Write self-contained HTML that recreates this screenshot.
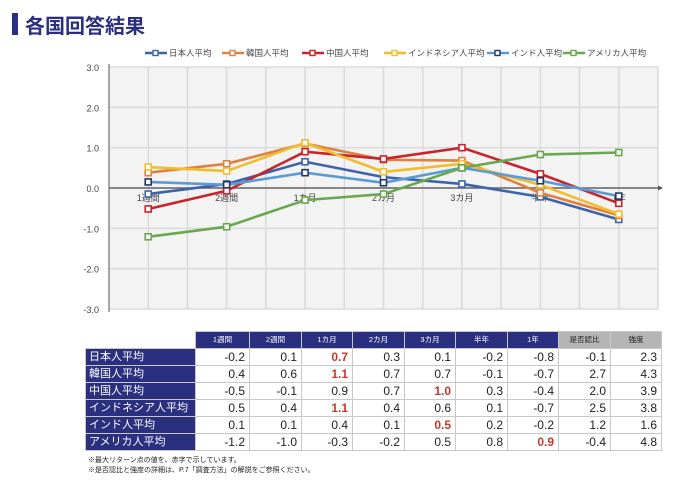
<!DOCTYPE html>
<html><head><meta charset="utf-8"><style>
body{margin:0;width:700px;height:481px;background:#fff;font-family:"Liberation Sans","Noto Sans CJK JP",sans-serif;position:relative;overflow:hidden}
.title{position:absolute;left:12px;top:12px;height:24px;display:flex;align-items:center}
.title .bar{width:6px;height:22px;background:#2b2f80;margin-right:7px}
.title span{font-size:20px;font-weight:bold;color:#2b2f80}
table{position:absolute;left:85px;top:331px;border-collapse:collapse;font-size:12px;table-layout:fixed;width:576px}
td,th{border:1px solid #c8c8c8;padding:0 4px;height:16.3px;line-height:16px;text-align:right;color:#222;white-space:nowrap;overflow:hidden;box-sizing:border-box}
th{background:#2b2f80;color:#fff;font-size:7.5px;font-weight:normal;text-align:center;height:17px}
th.g{background:#b5b5b5;color:#222}
th.e{background:#fff;border:none}
td.l{background:#2b2f80;color:#fff;text-align:left;font-size:11px;padding-left:3px}
td.r{color:#c0392b;font-weight:bold}
.note{position:absolute;left:88px;font-size:7px;color:#222;white-space:nowrap}
</style></head><body>
<div class="title"><div class="bar"></div><span>各国回答結果</span></div>
<svg id="chart" width="700" height="330" style="position:absolute;left:0;top:0"></svg>
<table>
<colgroup><col style="width:110px"><col style="width:54px"><col style="width:52px"><col style="width:51px"><col style="width:52px"><col style="width:51px"><col style="width:52px"><col style="width:51px"><col style="width:52px"><col style="width:51px"></colgroup>
<tr><th class="e"></th><th>1週間</th><th>2週間</th><th>1カ月</th><th>2カ月</th><th>3カ月</th><th>半年</th><th>1年</th><th class="g">是否認比</th><th class="g">強度</th></tr>
<tr><td class="l">日本人平均</td><td>-0.2</td><td>0.1</td><td class="r">0.7</td><td>0.3</td><td>0.1</td><td>-0.2</td><td>-0.8</td><td>-0.1</td><td>2.3</td></tr>
<tr><td class="l">韓国人平均</td><td>0.4</td><td>0.6</td><td class="r">1.1</td><td>0.7</td><td>0.7</td><td>-0.1</td><td>-0.7</td><td>2.7</td><td>4.3</td></tr>
<tr><td class="l">中国人平均</td><td>-0.5</td><td>-0.1</td><td>0.9</td><td>0.7</td><td class="r">1.0</td><td>0.3</td><td>-0.4</td><td>2.0</td><td>3.9</td></tr>
<tr><td class="l">インドネシア人平均</td><td>0.5</td><td>0.4</td><td class="r">1.1</td><td>0.4</td><td>0.6</td><td>0.1</td><td>-0.7</td><td>2.5</td><td>3.8</td></tr>
<tr><td class="l">インド人平均</td><td>0.1</td><td>0.1</td><td>0.4</td><td>0.1</td><td class="r">0.5</td><td>0.2</td><td>-0.2</td><td>1.2</td><td>1.6</td></tr>
<tr><td class="l">アメリカ人平均</td><td>-1.2</td><td>-1.0</td><td>-0.3</td><td>-0.2</td><td>0.5</td><td>0.8</td><td class="r">0.9</td><td>-0.4</td><td>4.8</td></tr>
</table>
<div class="note" style="top:455px">※最大リターン点の値を、赤字で示しています。</div>
<div class="note" style="top:465px">※是否認比と強度の詳細は、P.7「調査方法」の解説をご参照ください。</div>
<script>
const categories=["1週間","2週間","1カ月","2カ月","3カ月","半年","1年"];
const seriesNames=["日本人平均","韓国人平均","中国人平均","インドネシア人平均","インド人平均","アメリカ人平均"];
const japan=[-0.15,0.1,0.65,0.27,0.1,-0.22,-0.78];
const korea=[0.38,0.6,1.1,0.7,0.68,-0.12,-0.68];
const china=[-0.52,-0.07,0.9,0.72,1.0,0.35,-0.38];
const indonesia=[0.52,0.42,1.12,0.4,0.6,0.08,-0.65];
const india=[0.15,0.08,0.38,0.13,0.5,0.18,-0.2];
const usa=[-1.21,-0.96,-0.3,-0.15,0.5,0.83,0.88];
const yTicks=[3,2,1,0,-1,-2,-3];
const colors=["#3d64a8","#de8141","#c9242b","#f2bd2c","#5b9bd5","#6aa84f"];
const markerColors=["#3d64a8","#de8141","#c9242b","#f2bd2c","#1f3864","#6aa84f"];
const all=[japan,korea,china,indonesia,india,usa];
const svg=document.getElementById('chart');const NS="http://www.w3.org/2000/svg";
const L=109,R=658,T=67,B=309,step=(R-L)/14;
const x=i=>L+step*(1+2*i);
const y=v=>T+(3-v)/6*(B-T);
function mk(t,a,p){const e=document.createElementNS(NS,t);for(const k in a)e.setAttribute(k,a[k]);(p||svg).appendChild(e);return e;}
const bg=mk('rect',{x:L,y:T,width:R-L,height:B-T,fill:'#f3f3f3'});


for(let k=1;k<=14;k++)mk('line',{x1:L+step*k,x2:L+step*k,y1:T,y2:B,stroke:'#dadada','stroke-width':1.5});
yTicks.forEach(v=>{mk('line',{x1:L,x2:R,y1:y(v),y2:y(v),stroke:'#dadada','stroke-width':1.5});
const t=mk('text',{x:L-10,y:y(v)+4,'text-anchor':'end','font-size':9,fill:'#444'});t.textContent=v.toFixed(1);

});
mk('line',{x1:L,x2:L,y1:B+3,y2:T-3,stroke:'#555'});
mk('line',{x1:L,x2:R,y1:y(0),y2:y(0),stroke:'#666','stroke-width':1.5});
mk('path',{d:`M${R} ${y(0)-2.5}L${R+5} ${y(0)}L${R} ${y(0)+2.5}Z`,fill:'#555'});
categories.forEach((c,i)=>{const t=mk('text',{x:x(i),y:y(0)+13,'text-anchor':'middle','font-size':9,fill:'#444'});t.textContent=c;

});
all.forEach((s,si)=>{const g=mk('g',{});


mk('polyline',{points:s.map((v,i)=>x(i)+','+y(v)).join(' '),fill:'none',stroke:colors[si],'stroke-width':2.6},g);
s.forEach((v,i)=>mk('rect',{x:x(i)-3,y:y(v)-3,width:6,height:6,fill:'#fff',stroke:markerColors[si],'stroke-width':1.6},g));});
const lx=[145,222,302,384,487,563];
seriesNames.forEach((n,i)=>{const g=mk('g',{});


mk('line',{x1:lx[i],x2:lx[i]+22,y1:53,y2:53,stroke:colors[i],'stroke-width':2.6},g);
mk('rect',{x:lx[i]+8,y:50.5,width:5,height:5,fill:'#fff',stroke:markerColors[i],'stroke-width':1.4},g);
const t=mk('text',{x:lx[i]+24,y:56,'font-size':8.5,fill:'#444'},g);t.textContent=n;});
</script>
</body></html>
